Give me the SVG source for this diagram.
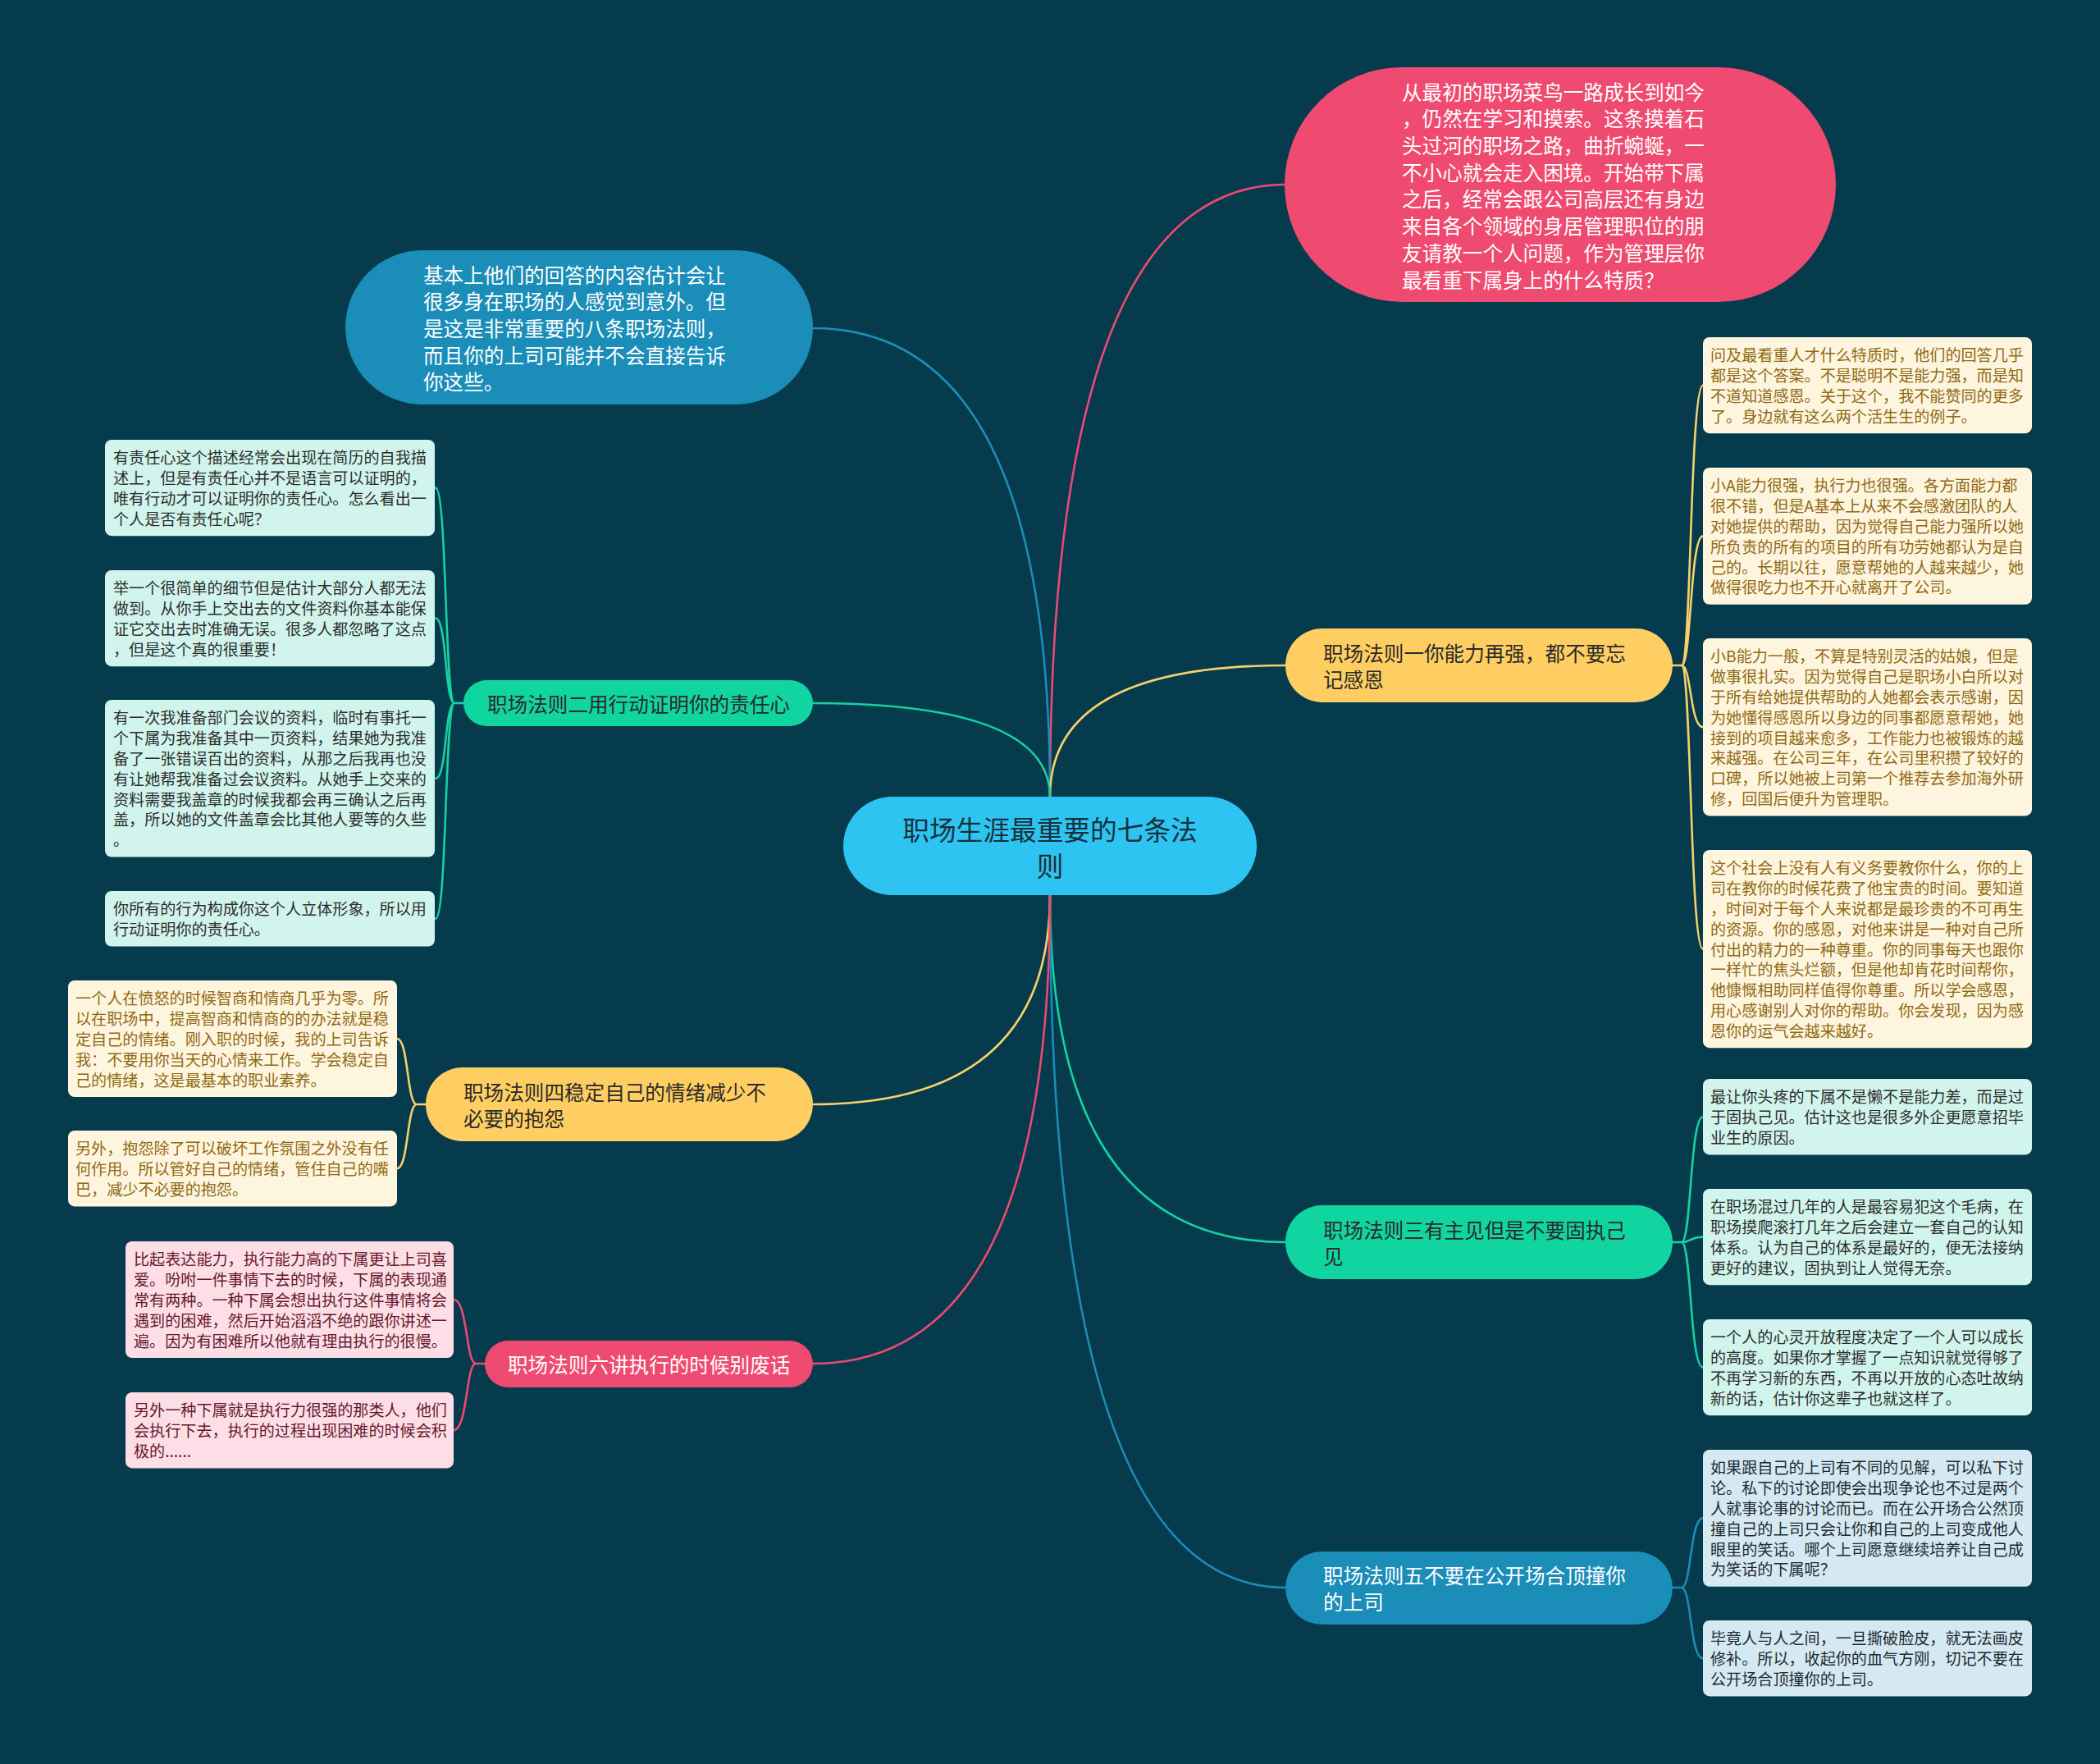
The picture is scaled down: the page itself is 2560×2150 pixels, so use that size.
<svg xmlns="http://www.w3.org/2000/svg" width="2560" height="2150" viewBox="0 0 2560 2150">
<style>
text{font-family:"Noto Sans CJK SC","Noto Sans",sans-serif;dominant-baseline:central}
.c{fill:none;stroke-width:2.6;stroke-linecap:round}
.pk{stroke:#EC4A71}.bl{stroke:#1C8DB9}.yl{stroke:#F7D06A}.gn{stroke:#14D3A0}
.br{font-size:24.6px}
.lf{font-size:19.1px}
.mint rect{fill:#D1F5EC}.mint text{fill:#2D2D2D}
.cream rect{fill:#FEF5DE}.cream text{fill:#8F6A14}
.rose rect{fill:#FDDEE6}.rose text{fill:#66182E}
.sky rect{fill:#D4E9F2}.sky text{fill:#1F2A30}
</style>
<rect width="2560" height="2150" fill="#063A4D"/>
<g id="connectors">
<path class="c pk" d="M1280,971 Q1280,225 1567,225"/>
<path class="c bl" d="M1280,971 Q1280,400 991,400"/>
<path class="c yl" d="M1280,971 Q1280,811 1567,811"/>
<path class="c gn" d="M1280,971 Q1280,857 991,857"/>
<path class="c gn" d="M1280,1091 Q1280,1514 1567,1514"/>
<path class="c yl" d="M1280,1091 Q1280,1346 991,1346"/>
<path class="c bl" d="M1280,1091 Q1280,1935 1567,1935"/>
<path class="c pk" d="M1280,1091 Q1280,1662 991,1662"/>
<path class="c yl" d="M2039,811 L2050,811 C2062,811 2060,469.6 2076,469.6 M2050,811 C2062,811 2060,653.4 2076,653.4 M2050,811 C2062,811 2060,886.2 2076,886.2 M2050,811 C2062,811 2060,1156.6 2076,1156.6"/>
<path class="c gn" d="M2039,1514 L2050,1514 C2062,1514 2060,1361.2 2076,1361.2 M2050,1514 C2062,1514 2060,1507.6 2076,1507.6 M2050,1514 C2062,1514 2060,1666.6 2076,1666.6"/>
<path class="c bl" d="M2039,1935 L2050,1935 C2062,1935 2060,1850.4 2076,1850.4 M2050,1935 C2062,1935 2060,2021.2 2076,2021.2"/>
<path class="c gn" d="M565,857 L554,857 C542,857 545,594.6 531,594.6 M554,857 C542,857 545,753.6 531,753.6 M554,857 C542,857 545,948.8 531,948.8 M554,857 C542,857 545,1119.8 531,1119.8"/>
<path class="c yl" d="M519,1346 L508,1346 C496,1346 498,1266 484,1266 M508,1346 C496,1346 498,1424.2 484,1424.2"/>
<path class="c pk" d="M591,1662 L580,1662 C568,1662 570,1584 553,1584 M580,1662 C568,1662 570,1743.2 553,1743.2"/>
</g>
<g id="center">
<rect x="1028" y="971" width="504" height="120" rx="60" fill="#2EC4F1"/>
<text font-size="32.7" fill="#17303B" text-anchor="middle"><tspan x="1280" y="1009">职场生涯最重要的七条法</tspan><tspan x="1280" y="1053">则</tspan></text>
</g>
<g id="intro-question">
<rect x="1566" y="82" width="672" height="286" rx="143" fill="#EF4A70"/>
<text class="br" fill="#FFFFFF"><tspan x="1709" y="110.6">从最初的职场菜鸟一路成长到如今</tspan><tspan x="1709" y="143.3">，仍然在学习和摸索。这条摸着石</tspan><tspan x="1709" y="176">头过河的职场之路，曲折蜿蜒，一</tspan><tspan x="1709" y="208.7">不小心就会走入困境。开始带下属</tspan><tspan x="1709" y="241.4">之后，经常会跟公司高层还有身边</tspan><tspan x="1709" y="274.1">来自各个领域的身居管理职位的朋</tspan><tspan x="1709" y="306.8">友请教一个人问题，作为管理层你</tspan><tspan x="1709" y="339.5">最看重下属身上的什么特质？</tspan></text>
</g>
<g id="intro-answer">
<rect x="421" y="305" width="570" height="188" rx="94" fill="#1A8DB8"/>
<text class="br" fill="#FFFFFF"><tspan x="516" y="333.6">基本上他们的回答的内容估计会让</tspan><tspan x="516" y="366.3">很多身在职场的人感觉到意外。但</tspan><tspan x="516" y="399">是这是非常重要的八条职场法则，</tspan><tspan x="516" y="431.7">而且你的上司可能并不会直接告诉</tspan><tspan x="516" y="464.4">你这些。</tspan></text>
</g>
<g id="rule1">
<rect x="1567" y="766" width="472" height="90" rx="45" fill="#FFCE63"/>
<text class="br" fill="#2A2A2A"><tspan x="1613" y="795">职场法则一你能力再强，都不要忘</tspan><tspan x="1613" y="827">记感恩</tspan></text>
</g>
<g id="rule2">
<rect x="565" y="829" width="426" height="56" rx="28" fill="#10D5A0"/>
<text class="br" fill="#2A2A2A" x="594" y="857">职场法则二用行动证明你的责任心</text>
</g>
<g id="rule3">
<rect x="1567" y="1469" width="472" height="90" rx="45" fill="#10D5A0"/>
<text class="br" fill="#2A2A2A"><tspan x="1613" y="1498">职场法则三有主见但是不要固执己</tspan><tspan x="1613" y="1530">见</tspan></text>
</g>
<g id="rule4">
<rect x="519" y="1301" width="472" height="90" rx="45" fill="#FFCE63"/>
<text class="br" fill="#2A2A2A"><tspan x="565" y="1330">职场法则四稳定自己的情绪减少不</tspan><tspan x="565" y="1362">必要的抱怨</tspan></text>
</g>
<g id="rule5">
<rect x="1567" y="1891" width="472" height="89" rx="44.5" fill="#1A8DB8"/>
<text class="br" fill="#FFFFFF"><tspan x="1613" y="1919">职场法则五不要在公开场合顶撞你</tspan><tspan x="1613" y="1951">的上司</tspan></text>
</g>
<g id="rule6">
<rect x="591" y="1634" width="400" height="57" rx="28.5" fill="#EF4A70"/>
<text class="br" fill="#FFFFFF" x="619" y="1662">职场法则六讲执行的时候别废话</text>
</g>
<g id="leaf-2a" class="mint">
<rect x="128" y="536" width="402" height="117.2" rx="8"/>
<text class="lf"><tspan x="138" y="557.4">有责任心这个描述经常会出现在简历的自我描</tspan><tspan x="138" y="582.2">述上，但是有责任心并不是语言可以证明的，</tspan><tspan x="138" y="607">唯有行动才可以证明你的责任心。怎么看出一</tspan><tspan x="138" y="631.8">个人是否有责任心呢？</tspan></text>
</g>
<g id="leaf-2b" class="mint">
<rect x="128" y="695" width="402" height="117.2" rx="8"/>
<text class="lf"><tspan x="138" y="716.4">举一个很简单的细节但是估计大部分人都无法</tspan><tspan x="138" y="741.2">做到。从你手上交出去的文件资料你基本能保</tspan><tspan x="138" y="766">证它交出去时准确无误。很多人都忽略了这点</tspan><tspan x="138" y="790.8">，但是这个真的很重要！</tspan></text>
</g>
<g id="leaf-2c" class="mint">
<rect x="128" y="853" width="402" height="191.6" rx="8"/>
<text class="lf"><tspan x="138" y="874.4">有一次我准备部门会议的资料，临时有事托一</tspan><tspan x="138" y="899.2">个下属为我准备其中一页资料，结果她为我准</tspan><tspan x="138" y="924">备了一张错误百出的资料，从那之后我再也没</tspan><tspan x="138" y="948.8">有让她帮我准备过会议资料。从她手上交来的</tspan><tspan x="138" y="973.6">资料需要我盖章的时候我都会再三确认之后再</tspan><tspan x="138" y="998.4">盖，所以她的文件盖章会比其他人要等的久些</tspan><tspan x="138" y="1023.2">。</tspan></text>
</g>
<g id="leaf-2d" class="mint">
<rect x="128" y="1086" width="402" height="67.6" rx="8"/>
<text class="lf"><tspan x="138" y="1107.4">你所有的行为构成你这个人立体形象，所以用</tspan><tspan x="138" y="1132.2">行动证明你的责任心。</tspan></text>
</g>
<g id="leaf-4a" class="cream">
<rect x="83" y="1195" width="401" height="142" rx="8"/>
<text class="lf"><tspan x="92" y="1216.4">一个人在愤怒的时候智商和情商几乎为零。所</tspan><tspan x="92" y="1241.2">以在职场中，提高智商和情商的的办法就是稳</tspan><tspan x="92" y="1266">定自己的情绪。刚入职的时候，我的上司告诉</tspan><tspan x="92" y="1290.8">我：不要用你当天的心情来工作。学会稳定自</tspan><tspan x="92" y="1315.6">己的情绪，这是最基本的职业素养。</tspan></text>
</g>
<g id="leaf-4b" class="cream">
<rect x="83" y="1378" width="401" height="92.4" rx="8"/>
<text class="lf"><tspan x="92" y="1399.4">另外，抱怨除了可以破坏工作氛围之外没有任</tspan><tspan x="92" y="1424.2">何作用。所以管好自己的情绪，管住自己的嘴</tspan><tspan x="92" y="1449">巴，减少不必要的抱怨。</tspan></text>
</g>
<g id="leaf-6a" class="rose">
<rect x="153" y="1513" width="400" height="142" rx="8"/>
<text class="lf"><tspan x="163" y="1534.4">比起表达能力，执行能力高的下属更让上司喜</tspan><tspan x="163" y="1559.2">爱。吩咐一件事情下去的时候，下属的表现通</tspan><tspan x="163" y="1584">常有两种。一种下属会想出执行这件事情将会</tspan><tspan x="163" y="1608.8">遇到的困难，然后开始滔滔不绝的跟你讲述一</tspan><tspan x="163" y="1633.6">遍。因为有困难所以他就有理由执行的很慢。</tspan></text>
</g>
<g id="leaf-6b" class="rose">
<rect x="153" y="1697" width="400" height="92.4" rx="8"/>
<text class="lf"><tspan x="163" y="1718.4">另外一种下属就是执行力很强的那类人，他们</tspan><tspan x="163" y="1743.2">会执行下去，执行的过程出现困难的时候会积</tspan><tspan x="163" y="1768">极的......</tspan></text>
</g>
<g id="leaf-1a" class="cream">
<rect x="2076" y="411" width="401" height="117.2" rx="8"/>
<text class="lf"><tspan x="2085" y="432.4">问及最看重人才什么特质时，他们的回答几乎</tspan><tspan x="2085" y="457.2">都是这个答案。不是聪明不是能力强，而是知</tspan><tspan x="2085" y="482">不道知道感恩。关于这个，我不能赞同的更多</tspan><tspan x="2085" y="506.8">了。身边就有这么两个活生生的例子。</tspan></text>
</g>
<g id="leaf-1b" class="cream">
<rect x="2076" y="570" width="401" height="166.8" rx="8"/>
<text class="lf"><tspan x="2085" y="591.4">小A能力很强，执行力也很强。各方面能力都</tspan><tspan x="2085" y="616.2">很不错，但是A基本上从来不会感激团队的人</tspan><tspan x="2085" y="641">对她提供的帮助，因为觉得自己能力强所以她</tspan><tspan x="2085" y="665.8">所负责的所有的项目的所有功劳她都认为是自</tspan><tspan x="2085" y="690.6">己的。长期以往，愿意帮她的人越来越少，她</tspan><tspan x="2085" y="715.4">做得很吃力也不开心就离开了公司。</tspan></text>
</g>
<g id="leaf-1c" class="cream">
<rect x="2076" y="778" width="401" height="216.4" rx="8"/>
<text class="lf"><tspan x="2085" y="799.4">小B能力一般，不算是特别灵活的姑娘，但是</tspan><tspan x="2085" y="824.2">做事很扎实。因为觉得自己是职场小白所以对</tspan><tspan x="2085" y="849">于所有给她提供帮助的人她都会表示感谢，因</tspan><tspan x="2085" y="873.8">为她懂得感恩所以身边的同事都愿意帮她，她</tspan><tspan x="2085" y="898.6">接到的项目越来愈多，工作能力也被锻炼的越</tspan><tspan x="2085" y="923.4">来越强。在公司三年，在公司里积攒了较好的</tspan><tspan x="2085" y="948.2">口碑，所以她被上司第一个推荐去参加海外研</tspan><tspan x="2085" y="973">修，回国后便升为管理职。</tspan></text>
</g>
<g id="leaf-1d" class="cream">
<rect x="2076" y="1036" width="401" height="241.2" rx="8"/>
<text class="lf"><tspan x="2085" y="1057.4">这个社会上没有人有义务要教你什么，你的上</tspan><tspan x="2085" y="1082.2">司在教你的时候花费了他宝贵的时间。要知道</tspan><tspan x="2085" y="1107">，时间对于每个人来说都是最珍贵的不可再生</tspan><tspan x="2085" y="1131.8">的资源。你的感恩，对他来讲是一种对自己所</tspan><tspan x="2085" y="1156.6">付出的精力的一种尊重。你的同事每天也跟你</tspan><tspan x="2085" y="1181.4">一样忙的焦头烂额，但是他却肯花时间帮你，</tspan><tspan x="2085" y="1206.2">他慷慨相助同样值得你尊重。所以学会感恩，</tspan><tspan x="2085" y="1231">用心感谢别人对你的帮助。你会发现，因为感</tspan><tspan x="2085" y="1255.8">恩你的运气会越来越好。</tspan></text>
</g>
<g id="leaf-3a" class="mint">
<rect x="2076" y="1315" width="401" height="92.4" rx="8"/>
<text class="lf"><tspan x="2085" y="1336.4">最让你头疼的下属不是懒不是能力差，而是过</tspan><tspan x="2085" y="1361.2">于固执己见。估计这也是很多外企更愿意招毕</tspan><tspan x="2085" y="1386">业生的原因。</tspan></text>
</g>
<g id="leaf-3b" class="mint">
<rect x="2076" y="1449" width="401" height="117.2" rx="8"/>
<text class="lf"><tspan x="2085" y="1470.4">在职场混过几年的人是最容易犯这个毛病，在</tspan><tspan x="2085" y="1495.2">职场摸爬滚打几年之后会建立一套自己的认知</tspan><tspan x="2085" y="1520">体系。认为自己的体系是最好的，便无法接纳</tspan><tspan x="2085" y="1544.8">更好的建议，固执到让人觉得无奈。</tspan></text>
</g>
<g id="leaf-3c" class="mint">
<rect x="2076" y="1608" width="401" height="117.2" rx="8"/>
<text class="lf"><tspan x="2085" y="1629.4">一个人的心灵开放程度决定了一个人可以成长</tspan><tspan x="2085" y="1654.2">的高度。如果你才掌握了一点知识就觉得够了</tspan><tspan x="2085" y="1679">不再学习新的东西，不再以开放的心态吐故纳</tspan><tspan x="2085" y="1703.8">新的话，估计你这辈子也就这样了。</tspan></text>
</g>
<g id="leaf-5a" class="sky">
<rect x="2076" y="1767" width="401" height="166.8" rx="8"/>
<text class="lf"><tspan x="2085" y="1788.4">如果跟自己的上司有不同的见解，可以私下讨</tspan><tspan x="2085" y="1813.2">论。私下的讨论即使会出现争论也不过是两个</tspan><tspan x="2085" y="1838">人就事论事的讨论而已。而在公开场合公然顶</tspan><tspan x="2085" y="1862.8">撞自己的上司只会让你和自己的上司变成他人</tspan><tspan x="2085" y="1887.6">眼里的笑话。哪个上司愿意继续培养让自己成</tspan><tspan x="2085" y="1912.4">为笑话的下属呢？</tspan></text>
</g>
<g id="leaf-5b" class="sky">
<rect x="2076" y="1975" width="401" height="92.4" rx="8"/>
<text class="lf"><tspan x="2085" y="1996.4">毕竟人与人之间，一旦撕破脸皮，就无法画皮</tspan><tspan x="2085" y="2021.2">修补。所以，收起你的血气方刚，切记不要在</tspan><tspan x="2085" y="2046">公开场合顶撞你的上司。</tspan></text>
</g>
</svg>
